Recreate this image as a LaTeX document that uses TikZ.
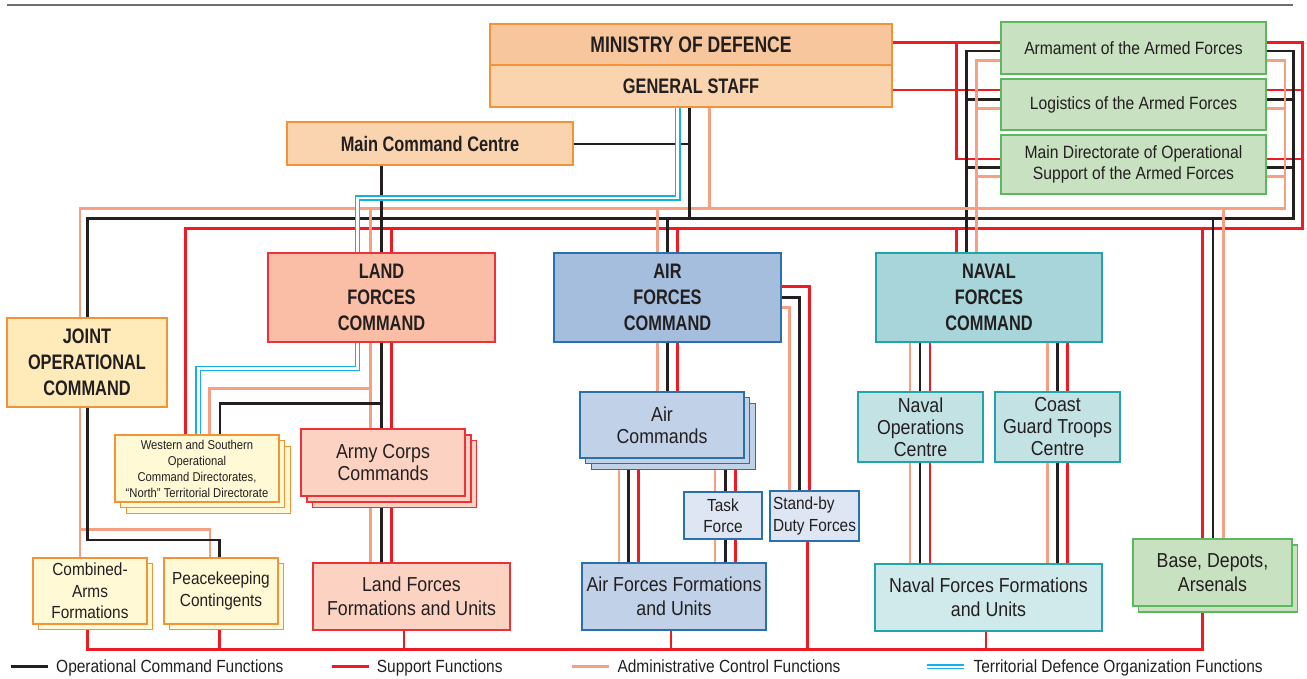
\documentclass[tikz,border=0pt]{standalone}
\usepackage{fontspec}
\setmainfont{Liberation Sans}[FakeStretch=0.88]
\newfontfamily\hdfont{Liberation Sans}[FakeStretch=0.78]
\usetikzlibrary{calc}
\definecolor{ink}{HTML}{231F20}
\definecolor{supred}{HTML}{ED1C24}
\definecolor{admsal}{HTML}{F5A083}
\definecolor{terblue}{HTML}{14B1E7}
\definecolor{rulegray}{HTML}{6D6E70}
\definecolor{orbd}{HTML}{F39237}
\definecolor{rdbd}{HTML}{EE3138}
\definecolor{blbd}{HTML}{2A70AD}
\definecolor{tlbd}{HTML}{23A3AA}
\definecolor{grbd}{HTML}{5CB85C}
\definecolor{modfill}{HTML}{F7C69C}
\definecolor{gsfill}{HTML}{F9D4AF}
\definecolor{jocfill}{HTML}{FFEBBA}
\definecolor{ylfill}{HTML}{FFF9D6}
\definecolor{lfcfill}{HTML}{F9BEA5}
\definecolor{lfill}{HTML}{FCD3C2}
\definecolor{afcfill}{HTML}{A5BEDE}
\definecolor{afill}{HTML}{C0D1E8}
\definecolor{aafill}{HTML}{DDE6F2}
\definecolor{nfcfill}{HTML}{A8D5DA}
\definecolor{nfill}{HTML}{C3E2E4}
\definecolor{nnfill}{HTML}{D0E9EB}
\definecolor{grfill}{HTML}{C8E1C0}
\tikzset{
  lineop/.style={draw=ink, line width=2.6pt},
  linesup/.style={draw=supred, line width=2.6pt},
  lineadm/.style={draw=admsal, line width=2.6pt},
  lineter/.style={draw=terblue, double=white, line width=1.5pt, double distance=2.8pt},
  box/.style={rectangle, inner sep=1pt, line width=1.4pt, align=center, text=ink},
  orbox/.style={box, draw=orbd},
  rdbox/.style={box, draw=rdbd},
  blbox/.style={box, draw=blbd},
  tlbox/.style={box, draw=tlbd},
  grbox/.style={box, draw=grbd, fill=grfill},
  hdtext/.style={font=\hdfont\bfseries\fontsize{21}{26}\selectfont},
  bigtext/.style={font=\fontsize{20.2}{22}\selectfont},
  unittext/.style={font=\fontsize{20.2}{24.3}\selectfont},
  smalltext/.style={font=\fontsize{17.5}{21.3}\selectfont},
  greentext/.style={font=\fontsize{17.8}{21}\selectfont},
  westtext/.style={font=\fontsize{12.8}{16}\selectfont},
  legtext/.style={font=\fontsize{17.6}{20}\selectfont, text=ink, inner sep=0pt},
}
\begin{document}
\begin{tikzpicture}[x=1pt,y=-1pt]
\useasboundingbox (0,0) rectangle (1307,679);
% top rule
\coordinate (ruleL) at (7,5);
\coordinate (ruleR) at (1293,5);
\draw[rulegray, line width=1.5pt] (ruleL) -- (ruleR);

% back copies of stacks
\node[orbox, fill=ylfill, minimum width=164pt, minimum height=67pt] (west3) at (208.4,479.9) {};
\node[orbox, fill=ylfill, minimum width=164pt, minimum height=67pt] (west2) at (202.7,474.2) {};
\node[rdbox, fill=lfill, minimum width=164pt, minimum height=67pt] (acc3) at (394.6,474.1) {};
\node[rdbox, fill=lfill, minimum width=164pt, minimum height=67pt] (acc2) at (388.8,468.3) {};
\node[blbox, fill=afill, minimum width=164pt, minimum height=66pt] (air3) at (673.4,436.4) {};
\node[blbox, fill=afill, minimum width=164pt, minimum height=66pt] (air2) at (667.7,430.7) {};
\node[grbox, minimum width=159pt, minimum height=67pt] (base2) at (1218,578.5) {};
\node[orbox, fill=ylfill, minimum width=114pt, minimum height=66pt] (caf2) at (95.5,596.5) {};
\node[orbox, fill=ylfill, minimum width=114pt, minimum height=66pt] (pk2) at (226.5,596.5) {};

% upper boxes
\node[orbox, fill=modfill, minimum width=402pt, minimum height=41pt, font=\hdfont\bfseries\fontsize{22.5}{26}\selectfont] (mod) at (691,44.5) {MINISTRY OF DEFENCE};
\node[orbox, fill=gsfill, minimum width=402pt, minimum height=42pt, hdtext] (gs) at (691,86) {GENERAL STAFF};
\node[orbox, fill=gsfill, minimum width=286pt, minimum height=43pt, hdtext] (mcc) at (430,143.5) {Main Command Centre};
\node[grbox, minimum width=265pt, minimum height=52pt, greentext] (arm) at (1133.5,48) {Armament of the Armed Forces};
\node[grbox, minimum width=265pt, minimum height=51pt, greentext] (log) at (1133.5,104.5) {Logistics of the Armed Forces};
\node[grbox, minimum width=265pt, minimum height=59pt, greentext] (mdir) at (1133.5,164.5) {Main Directorate of Operational\\Support of the Armed Forces};
\node[orbox, fill=jocfill, minimum width=160pt, minimum height=89pt, hdtext] (joc) at (87,362.5) {JOINT\\OPERATIONAL\\COMMAND};
\node[rdbox, fill=lfcfill, minimum width=227pt, minimum height=89pt, hdtext] (lfc) at (381.5,297.5) {LAND\\FORCES\\COMMAND};
\node[blbox, fill=afcfill, minimum width=227pt, minimum height=89pt, hdtext] (afc) at (667.5,297.5) {AIR\\FORCES\\COMMAND};
\node[tlbox, fill=nfcfill, minimum width=226pt, minimum height=89pt, hdtext] (nfc) at (989,297.5) {NAVAL\\FORCES\\COMMAND};

% red (support) top network
\draw[linesup] (mod.east |- 0,42.3) -- (arm.west |- 0,42.3);
\draw[linesup] (956.7,42.3) |- (mdir.west |- 0,159);
\draw[linesup] (gs.east |- 0,90) -- (log.west |- 0,90);
\draw[linesup] (arm.east |- 0,42.3) -| (1302.7,228.3) -| (185.7,435);
\draw[linesup] (log.east |- 0,90) -- (1302.7,90);
\draw[linesup] (mdir.east |- 0,159) -- (1302.7,159);
% black (operational) top network
\draw[lineop] (arm.west |- 0,51) -| (966.7,0 |- nfc.north);
\draw[lineop] (log.west |- 0,99.3) -- (966.7,99.3);
\draw[lineop] (mdir.west |- 0,167.7) -- (966.7,167.7);
\draw[lineop] (arm.east |- 0,51) -| (1293.3,218.3) -| (87.5,0 |- joc.north);
\draw[lineop] (log.east |- 0,99.3) -- (1293.3,99.3);
\draw[lineop] (mdir.east |- 0,167.7) -- (1293.3,167.7);
% salmon (administrative) top network
\draw[lineadm] (arm.west |- 0,60.3) -| (976.7,0 |- nfc.north);
\draw[lineadm] (log.west |- 0,108.3) -- (976.7,108.3);
\draw[lineadm] (mdir.west |- 0,176.7) -- (976.7,176.7);
\draw[lineadm] (arm.east |- 0,60.3) -| (1285,208.3) -| (80,0 |- joc.north);
\draw[lineadm] (log.east |- 0,108.3) -- (1285,108.3);
\draw[lineadm] (mdir.east |- 0,176.7) -- (1285,176.7);
% general staff down
\draw[lineop] (689.3,0 |- gs.south) -- (689.3,218.3);
\draw[lineop] (mcc.east |- 0,144) -- (689.3,144);
\draw[lineadm] (709.3,0 |- gs.south) -- (709.3,208.3);

% land forces command
\draw[lineadm] (370.3,208.3) -- (370.3,0 |- lfc.north);
\draw[lineop] (381.7,0 |- mcc.south) -- (381.7,0 |- lfc.north);
\draw[linesup] (391.5,228.3) -- (391.5,0 |- lfc.north);

% air forces command
\draw[lineadm] (657.3,208.3) -- (657.3,0 |- afc.north);
\draw[lineop] (667.3,218.3) -- (667.3,0 |- afc.north);
\draw[linesup] (677.3,228.3) -- (677.3,0 |- afc.north);

% naval forces command
\draw[linesup] (956.7,228.3) -- (956.7,0 |- nfc.north);

% base depots
\draw[linesup] (1202.7,228.3) -- (1202.7,540);
\draw[lineop] (1213,218.3) -- (1213,540);
\draw[lineadm] (1223.3,208.3) -- (1223.3,540);

% territorial defence (blue double)
\draw[lineter] (677.7,0 |- gs.south) |- (357.5,198) -- (357.5,0 |- lfc.north);
\draw[lineter] (357.5,0 |- lfc.south) |- (198.3,368.5) -- (198.3,435);

% lower boxes
\node[orbox, fill=ylfill, minimum width=164pt, minimum height=67pt, westtext] (west) at (197,468.5) {Western and Southern\\Operational\\Command Directorates,\\“North” Territorial Directorate};
\node[rdbox, fill=lfill, minimum width=164pt, minimum height=67pt, bigtext] (acc) at (383,462.5) {Army Corps\\Commands};
\node[blbox, fill=afill, minimum width=164pt, minimum height=66pt, bigtext] (air) at (662,425) {Air\\Commands};
\node[blbox, fill=aafill, minimum width=78pt, minimum height=47pt, smalltext] (tf) at (723,515.5) {Task\\Force};
\node[blbox, fill=aafill, minimum width=89pt, minimum height=50pt, smalltext, align=left] (sb) at (814.5,516) {Stand-by\\Duty Forces};
\node[tlbox, fill=nfill, minimum width=125pt, minimum height=70pt, bigtext] (noc) at (920.5,427) {Naval\\Operations\\Centre};
\node[tlbox, fill=nfill, minimum width=125pt, minimum height=70pt, bigtext] (cgtc) at (1057.5,427) {Coast\\Guard Troops\\Centre};
\node[grbox, minimum width=159pt, minimum height=67pt, unittext] (base) at (1212.5,572.5) {Base, Depots,\\Arsenals};
\node[orbox, fill=ylfill, minimum width=114pt, minimum height=66pt, smalltext] (caf) at (90,591) {Combined-\\Arms\\Formations};
\node[orbox, fill=ylfill, minimum width=114pt, minimum height=66pt, smalltext] (pk) at (221,591) {Peacekeeping\\Contingents};
\node[rdbox, fill=lfill, minimum width=197pt, minimum height=67pt, unittext] (lffu) at (411.5,596.5) {Land Forces\\Formations and Units};
\node[blbox, fill=afill, minimum width=184pt, minimum height=67pt, unittext] (affu) at (674,596.5) {Air Forces Formations\\and Units};
\node[tlbox, fill=nnfill, minimum width=227pt, minimum height=67pt, unittext] (nffu) at (988.5,597.5) {Naval Forces Formations\\and Units};

% land forces below
\foreach \xx/\st in {370.3/lineadm, 381.7/lineop, 391.5/linesup}
  \draw[\st] (\xx,0 |- lfc.south) -- (\xx,0 |- acc.north);
\foreach \xx/\st in {370.7/lineadm, 381.7/lineop, 391.3/linesup}
  \draw[\st] (\xx,0 |- acc3.south) -- (\xx,0 |- lffu.north);
\draw[lineadm] (370.3,388.3) -| (209.3,0 |- west.north);
\draw[lineop] (381.7,403.3) -| (220,0 |- west.north);

% air forces below
\foreach \xx/\st in {657.3/lineadm, 667.3/lineop, 677.3/linesup}
  \draw[\st] (\xx,0 |- afc.south) -- (\xx,0 |- air.north);
\foreach \xx/\st in {619/lineadm, 628.7/lineop, 638.7/linesup}
  \draw[\st] (\xx,0 |- air3.south) -- (\xx,0 |- affu.north);
\foreach \xx/\st in {715/lineadm, 725.3/lineop, 735.5/linesup}{
  \draw[\st] (\xx,0 |- air3.south) -- (\xx,0 |- tf.north);
  \draw[\st] (\xx,0 |- tf.south) -- (\xx,0 |- affu.north);
}
\draw[linesup] (afc.east |- 0,286.7) -| (809.3,0 |- sb.north);
\draw[lineop] (afc.east |- 0,297.7) -| (799.3,0 |- sb.north);
\draw[lineadm] (afc.east |- 0,307.7) -| (789.3,0 |- sb.north);

% naval forces below
\foreach \xx/\st in {910/lineadm, 920/lineop, 930/linesup}{
  \draw[\st] (\xx,0 |- nfc.south) -- (\xx,0 |- noc.north);
  \draw[\st] (\xx,0 |- noc.south) -- (\xx,0 |- nffu.north);
}
\foreach \xx/\st in {1047.3/lineadm, 1057.3/lineop, 1067.7/linesup}{
  \draw[\st] (\xx,0 |- nfc.south) -- (\xx,0 |- cgtc.north);
  \draw[\st] (\xx,0 |- cgtc.south) -- (\xx,0 |- nffu.north);
}

% joint operational command below
\draw[lineadm] (80,0 |- joc.south) -- (80,0 |- caf.north);
\draw[lineadm] (80,529.3) -| (210,0 |- pk.north);
\draw[lineop] (87.5,0 |- joc.south) |- (219.3,540) -- (219.3,0 |- pk.north);

% bottom support bus
\coordinate (busL) at (87.3,649.3);
\coordinate (busR) at (1202.7,649.3);
\draw[linesup] (87.3,0 |- caf2.south) -- (busL) -- (busR) -- (1202.7,0 |- base2.south);
\foreach \xx/\nd in {219.3/pk2, 404/lffu, 671/affu, 807.3/sb, 986/nffu}
  \draw[linesup] (\xx,0 |- \nd.south) -- (\xx,649.3);

% legend
\coordinate (l1a) at (10.7,666.5); \coordinate (l1b) at (47.7,666.5);
\draw[lineop] (l1a) -- (l1b);
\node[legtext, anchor=base west] (leg1) at (56,672.8) {Operational Command Functions};
\coordinate (l2a) at (331.7,666.5); \coordinate (l2b) at (369.3,666.5);
\draw[linesup] (l2a) -- (l2b);
\node[legtext, anchor=base west] (leg2) at (376.7,672.8) {Support Functions};
\coordinate (l3a) at (572.3,666.5); \coordinate (l3b) at (609.3,666.5);
\draw[lineadm] (l3a) -- (l3b);
\node[legtext, anchor=base west] (leg3) at (617.3,672.8) {Administrative Control Functions};
\coordinate (l4a) at (927.3,666.5); \coordinate (l4b) at (964.3,666.5);
\draw[lineter, line width=1.2pt, double distance=2pt] (l4a) -- (l4b);
\node[legtext, anchor=base west] (leg4) at (973.3,672.8) {Territorial Defence Organization Functions};
\end{tikzpicture}
\end{document}
